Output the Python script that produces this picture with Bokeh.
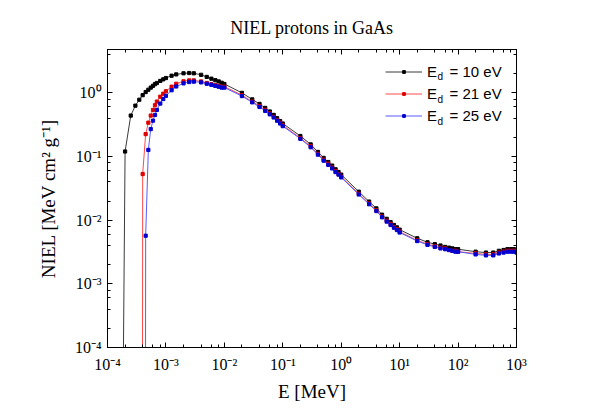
import math
from bokeh.plotting import figure
from bokeh.models import (Range1d, LogAxis, LogTicker, CustomJSTickFormatter,
                          Legend, LegendItem, Label)
from bokeh.embed import file_html
from bokeh.resources import INLINE

# ---------------- data ----------------
energy = [2e-4, 2.5e-4, 3e-4, 3.5e-4, 4e-4, 4.5e-4, 5e-4, 5.5e-4, 6e-4, 6.5e-4,
          7e-4, 8e-4, 9e-4, 1e-3, 1.25e-3, 1.5e-3, 2e-3, 2.5e-3, 3e-3, 4e-3,
          5e-3, 6e-3, 7e-3, 8e-3, 9e-3, 1e-2, 2e-2, 3e-2, 4e-2, 5e-2,
          6e-2, 7e-2, 8e-2, 9e-2, 0.1, 0.2, 0.3, 0.4, 0.5, 0.6,
          0.7, 0.8, 0.9, 1, 2, 3, 4, 5, 6, 7,
          8, 9, 10, 20, 30, 40, 50, 60, 70, 80,
          90, 100, 200, 300, 400, 500, 600, 700, 800, 900,
          1000]

nan = float("nan")
niel_10 = [0.12, 0.44, 0.63, 0.78, 0.92, 1.03, 1.12, 1.21, 1.29, 1.37,
           1.43, 1.54, 1.63, 1.71, 1.86, 1.95, 2.03, 2.05, 2.03, 1.92,
           1.78, 1.67, 1.58, 1.51, 1.44, 1.38, 1.00, 0.79, 0.67, 0.58,
           0.51, 0.45, 0.40, 0.36, 0.33, 0.21, 0.155, 0.118, 0.095, 0.082,
           0.072, 0.063, 0.057, 0.052, 0.028, 0.0196, 0.0153, 0.0122, 0.0105, 0.0093,
           0.0084, 0.0077, 0.0071, 0.0052, 0.0045, 0.0042, 0.0040, 0.0038, 0.0037, 0.0036,
           0.0035, 0.0035, 0.0032, 0.0031, 0.0031, 0.0033, 0.0034, 0.0035, 0.0035, 0.0035,
           0.0034]
niel_21 = [nan, nan, nan, nan, 0.053, 0.225, 0.34, 0.44, 0.54, 0.64,
           0.73, 0.87, 0.97, 1.06, 1.25, 1.39, 1.52, 1.57, 1.57, 1.51,
           1.43, 1.37, 1.32, 1.28, 1.24, 1.25, 0.92, 0.73, 0.62, 0.54,
           0.475, 0.42, 0.375, 0.34, 0.31, 0.195, 0.145, 0.110, 0.089, 0.077,
           0.067, 0.059, 0.053, 0.048, 0.026, 0.0183, 0.0143, 0.0114, 0.0098, 0.0087,
           0.0078, 0.0072, 0.0066, 0.0048, 0.0042, 0.0039, 0.0037, 0.0036, 0.0034, 0.0033,
           0.0033, 0.0032, 0.0030, 0.0029, 0.0029, 0.0031, 0.0032, 0.0033, 0.0033, 0.0033,
           0.0032]
niel_25 = [nan, nan, nan, nan, nan, 0.0057, 0.127, 0.27, 0.366, 0.45,
           0.54, 0.68, 0.80, 0.90, 1.10, 1.26, 1.41, 1.48, 1.50, 1.46,
           1.39, 1.34, 1.29, 1.25, 1.21, 1.21, 0.89, 0.71, 0.60, 0.52,
           0.46, 0.41, 0.365, 0.33, 0.30, 0.19, 0.14, 0.107, 0.086, 0.074,
           0.065, 0.057, 0.052, 0.047, 0.0253, 0.0178, 0.0139, 0.0111, 0.0095, 0.0084,
           0.0076, 0.0070, 0.0064, 0.0047, 0.0041, 0.0038, 0.0036, 0.0035, 0.0034, 0.0033,
           0.0032, 0.0032, 0.0029, 0.0028, 0.0028, 0.0030, 0.0031, 0.0032, 0.0032, 0.0032,
           0.0031]

# threshold energies where the curves drop to (practically) zero
threshold_energy = [1.8e-4, 3.95e-4, 4.45e-4]
threshold_niel = [1e-6, 1e-6, 1e-6]

labels = ["10 eV", "21 eV", "25 eV"]
line_colors = ["#3a3a3a", "#ff4a4a", "#5a5aff"]
marker_colors = ["#000000", "#e00000", "#0000d0"]

# ---------------- figure ----------------
X0, X1 = 1e-4, 1e3
Y0, Y1 = 1e-4, 4.8
p = figure(width=591, height=409, x_axis_type="log", y_axis_type="log",
           x_range=Range1d(X0, X1), y_range=Range1d(Y0, Y1),
           output_backend="svg", toolbar_location=None,
           min_border_left=107, min_border_right=75,
           min_border_top=49, min_border_bottom=62)
p.background_fill_color = "white"
p.border_fill_color = "white"
p.outline_line_color = "black"
p.xgrid.visible = False
p.ygrid.visible = False

p.title.text = "NIEL protons in GaAs"
p.title.align = "center"
p.title.text_font = "Liberation Serif"
p.title.text_font_size = "18px"
p.title.text_font_style = "normal"
p.title.text_color = "black"
p.title.standoff = 24

sup_code = """
const sup = {"0":"\u2070","1":"\u00b9","2":"\u00b2","3":"\u00b3","4":"\u2074",
             "5":"\u2075","6":"\u2076","7":"\u2077","8":"\u2078","9":"\u2079","-":"\u207b"};
const e = Math.round(Math.log10(tick));
return "10" + String(e).split("").map(c => sup[c]).join("");
"""
blank_code = "return '';"

def style_axis(ax, labels_on=True):
    ax.ticker = LogTicker(desired_num_ticks=10)
    ax.formatter = CustomJSTickFormatter(code=sup_code if labels_on else blank_code)
    ax.axis_line_color = "black"
    ax.major_tick_line_color = "black"
    ax.minor_tick_line_color = "black"
    ax.major_tick_in = 5
    ax.major_tick_out = 0
    ax.minor_tick_in = 3
    ax.minor_tick_out = 0
    ax.major_label_text_font = "Liberation Serif"
    ax.major_label_text_font_size = "16px"
    ax.major_label_text_color = "black"
    ax.axis_label_text_font = "Liberation Serif"
    ax.axis_label_text_font_size = "19px"
    ax.axis_label_text_font_style = "normal"
    ax.axis_label_text_color = "black"

xa = p.xaxis[0]
ya = p.yaxis[0]
style_axis(xa)
style_axis(ya)
xa.axis_label = "E [MeV]"
ya.axis_label = "NIEL [MeV cm\u00b2 g\u207b\u00b9]"
xa.major_label_standoff = 8
xa.axis_label_standoff = 5
ya.major_label_standoff = 6
ya.axis_label_standoff = 13

ra = LogAxis()
style_axis(ra, labels_on=False)
ra.major_label_standoff = 0
p.add_layout(ra, "right")
ta = LogAxis()
style_axis(ta, labels_on=False)
ta.major_label_standoff = 0
p.add_layout(ta, "above")

# ---------------- series ----------------
series = [niel_10, niel_21, niel_25]
items = []
for i, vals in enumerate(series):
    xs = [threshold_energy[i]]
    ys = [threshold_niel[i]]
    for e, v in zip(energy, vals):
        if not math.isnan(v):
            xs.append(e)
            ys.append(v)
    ln = p.line(xs, ys, line_color=line_colors[i], line_width=1)
    sc = p.scatter(xs[1:], ys[1:], marker="square", size=3.2,
                   fill_color=marker_colors[i], line_color=marker_colors[i])
    items.append(LegendItem(label="E\u00a0\u00a0\u00a0= " + labels[i], renderers=[ln, sc]))

legend = Legend(items=items, location=(278, 222), padding=0, margin=0,
                spacing=2, glyph_width=37, glyph_height=7, label_height=20,
                label_standoff=5, border_line_color=None,
                background_fill_alpha=0, label_text_font="Liberation Sans",
                label_text_font_size="15px", label_text_color="black")
p.add_layout(legend)

# subscript "d" of E_d in the legend (positions from frame pixels)
FL, FR, FT, FB = 107, 516, 49, 347
def px_x(px):
    return 10 ** (math.log10(X0) + (px - FL) / (FR - FL) * (math.log10(X1) - math.log10(X0)))
def px_y(py):
    return 10 ** (math.log10(Y1) - (py - FT) / (FB - FT) * (math.log10(Y1) - math.log10(Y0)))

for k, row_y in enumerate([70, 92.5, 115]):
    p.add_layout(Label(x=px_x(437), y=px_y(row_y + 6), text="d",
                       text_font="Liberation Sans", text_font_size="10px",
                       text_baseline="middle", text_color="black"))

open("out.html", "w").write(file_html(p, INLINE))
